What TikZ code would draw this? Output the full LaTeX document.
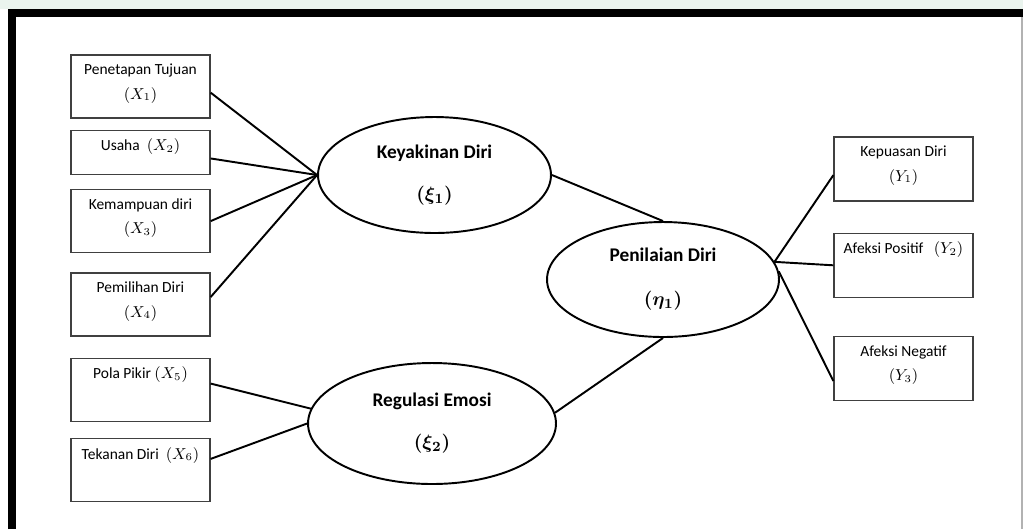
\documentclass[tikz,border=0pt]{standalone}
\usepackage{amsmath}
\usepackage{fontspec}
\setmainfont{Carlito}
\usetikzlibrary{positioning, shapes.geometric}
\definecolor{wm}{RGB}{234,244,238}

\begin{document}
\begin{tikzpicture}[x=0.02cm, y=-0.02cm,
    box/.style={draw=black!75, line width=0.75pt, rectangle, minimum width=2.78cm, minimum height=1.26cm, inner sep=0pt},
    txt/.style={align=center, inner sep=0pt, font=\fontsize{8.8}{10.6}\selectfont},
    latent/.style={draw, ellipse, line width=1.1pt, align=center, inner sep=0pt, font=\bfseries\fontsize{11}{13}\selectfont}]
    \useasboundingbox (0,0) rectangle (1023,529);
    % frame
    \fill[wm] (0,0) rectangle (1023,9);
    \draw[line width=0.16cm] (12.2,529) -- (12.2,13.3) -- (1023,13.3);
    \draw[gray!60, line width=0.04cm] (1022,17) -- (1022,529);
    % indikator X
    \node[box] (x1) at (140.5,86.5) {};
    \node[box, minimum height=0.88cm, below=0.22cm of x1] (x2) {};
    \node[box, below=0.28cm of x2] (x3) {};
    \node[box, below=0.38cm of x3] (x4) {};
    \node[box, below=0.42cm of x4] (x5) {};
    \node[box, below=0.32cm of x5] (x6) {};
    \node[txt, below=0.18cm of x1.north] (t1) {Penetapan Tujuan\\[3.5pt]$(X_1)$};
    \node[txt, below=0.18cm of x2.north] (t2) {Usaha\ \ $(X_2)$};
    \node[txt, below=0.18cm of x3.north] (t3) {Kemampuan diri\\[3.5pt]$(X_3)$};
    \node[txt, below=0.18cm of x4.north] (t4) {Pemilihan Diri\\[3.5pt]$(X_4)$};
    \node[txt, below=0.18cm of x5.north] (t5) {Pola Pikir $(X_5)$};
    \node[txt, below=0.18cm of x6.north] (t6) {Tekanan Diri\ \ $(X_6)$};
    % variabel laten
    \node[latent, minimum width=4.66cm, minimum height=2.32cm] (k1) at (434.5,175) {Keyakinan Diri\\[11pt]{\boldmath$(\xi_1)$}};
    \node[latent, minimum width=4.64cm, minimum height=2.30cm] (p1) at (663,279.5) {Penilaian Diri\\[12pt]{\boldmath$(\eta_1)$}};
    \node[latent, minimum width=4.96cm, minimum height=2.42cm] (r1) at (432,423.5) {Regulasi Emosi\\[11pt]{\boldmath$(\xi_2)$}};
    % indikator Y
    \node[box, minimum height=1.28cm] (y1) at (903.5,169) {};
    \node[box, minimum height=1.28cm, below=0.62cm of y1] (y2) {};
    \node[box, minimum height=1.28cm, below=0.76cm of y2] (y3) {};
    \node[txt, below=0.18cm of y1.north] (s1) {Kepuasan Diri\\[3.5pt]$(Y_1)$};
    \node[txt, below=0.18cm of y2.north] (s2) {Afeksi Positif\ \ \ $(Y_2)$};
    \node[txt, below=0.18cm of y3.north] (s3) {Afeksi Negatif\\[3.5pt]$(Y_3)$};
    \foreach \u / \v in {x1.-5/k1.west, x2.-5/k1.west, x3.east/k1.west, x4.6/k1.west, x5.5/r1.173, x6.9/r1.west, k1.east/p1.north, r1.5/p1.south, p1.9/y1.185, p1.9/y2.west, p1.4/y3.190}
        \draw[line width=1.1pt] (\u) -- (\v);
\end{tikzpicture}
\end{document}
